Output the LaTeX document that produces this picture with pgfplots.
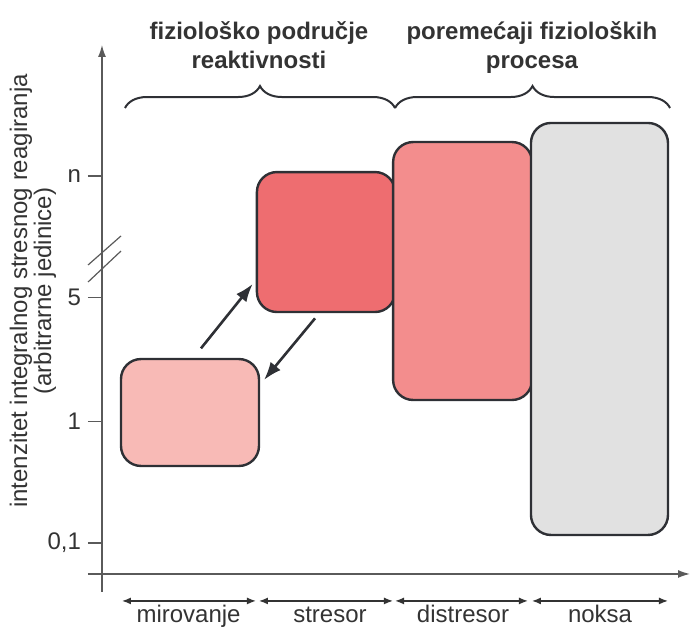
\documentclass[border=0pt]{standalone}
\usepackage{fontspec}
\setmainfont{Liberation Sans}
\usepackage{pgfplots}
\pgfplotsset{compat=1.18}
\usetikzlibrary{arrows.meta,decorations.pathreplacing}
\definecolor{cMir}{HTML}{F8BAB6}
\definecolor{cStr}{HTML}{EE6D70}
\definecolor{cDis}{HTML}{F38D8D}
\definecolor{cNok}{HTML}{E1E1E1}
\definecolor{cLine}{HTML}{2E3035}
\definecolor{cAxis}{HTML}{5A5A5A}
\definecolor{cText}{HTML}{333333}
\begin{document}
\begin{tikzpicture}[font=\fontsize{12}{14}\selectfont]
\begin{axis}[
  x=68.375pt, y=60.75pt,
  xmin=-0.139, xmax=4.161, ymin=-0.255, ymax=4.099,
  axis lines=left,
  clip=false,
  axis line style={cAxis, line width=0.7pt},
  x axis line style={-{Latex[length=6pt,width=4pt]}, shorten <=-7pt},
  y axis line style={-{Latex[length=6pt,width=4pt]}, shorten <=-9pt},
  xtick=\empty,
  ytick={0,1,2.02,3.02},
  yticklabels={{\mbox{0,1}},{\mbox{1}},{\mbox{5}},{\mbox{n}}},
  tick align=outside,
  major tick length=7pt,
  ytick style={cAxis, line width=0.7pt},
  yticklabel style={font=\fontsize{12}{14}\selectfont, text=cText},
]
% boxes (x: category span, y: intensity position)
\addplot[draw=cLine, line width=1.2pt, fill=cMir, rounded corners=10pt, mark=none]
  coordinates {(0,1.07) (0,1.514) (1.009,1.514) (1.009,0.634) (0,0.634)} -- cycle;
\addplot[draw=cLine, line width=1.2pt, fill=cStr, rounded corners=10pt, mark=none]
  coordinates {(0.994,2.48) (0.994,3.053) (2.004,3.053) (2.004,1.901) (0.994,1.901)} -- cycle;
\addplot[draw=cLine, line width=1.2pt, fill=cDis, rounded corners=10pt, mark=none]
  coordinates {(1.990,2.24) (1.990,3.300) (3.006,3.300) (3.006,1.177) (1.990,1.177)} -- cycle;
\addplot[draw=cLine, line width=1.2pt, fill=cNok, rounded corners=10pt, mark=none]
  coordinates {(2.998,1.76) (2.998,3.457) (4.0,3.457) (4.0,0.066) (2.998,0.066)} -- cycle;
% transition arrows
\addplot[cLine, line width=1.3pt, mark=none, -{Latex[length=9pt,width=6.5pt]}]
  coordinates {(0.585,1.602) (0.963,2.132)};
\addplot[cLine, line width=1.3pt, mark=none, -{Latex[length=9pt,width=6.5pt]}]
  coordinates {(1.419,1.849) (1.046,1.342)};
% category span arrows
\addplot[cText, line width=0.7pt, mark=none, {Latex[length=4.5pt,width=3.5pt]}-{Latex[length=4.5pt,width=3.5pt]}]
  coordinates {(0.007,-0.477) (0.987,-0.477)};
\addplot[cText, line width=0.7pt, mark=none, {Latex[length=4.5pt,width=3.5pt]}-{Latex[length=4.5pt,width=3.5pt]}]
  coordinates {(1.009,-0.477) (1.989,-0.477)};
\addplot[cText, line width=0.7pt, mark=none, {Latex[length=4.5pt,width=3.5pt]}-{Latex[length=4.5pt,width=3.5pt]}]
  coordinates {(2.004,-0.477) (2.976,-0.477)};
\addplot[cText, line width=0.7pt, mark=none, {Latex[length=4.5pt,width=3.5pt]}-{Latex[length=4.5pt,width=3.5pt]}]
  coordinates {(3.005,-0.477) (4.0,-0.477)};
% category labels
\node[anchor=base, text=cText] at (axis cs:0.494,-0.658) {mirovanje};
\node[anchor=base, text=cText] at (axis cs:1.528,-0.658) {stresor};
\node[anchor=base, text=cText] at (axis cs:2.501,-0.658) {distresor};
\node[anchor=base, text=cText] at (axis cs:3.503,-0.658) {noksa};
% braces and group titles
\draw[decorate, decoration={brace, amplitude=11pt}, cLine, line width=1pt]
  (axis cs:0.029,3.580) -- (axis cs:2.004,3.580);
\draw[decorate, decoration={brace, amplitude=11pt}, cLine, line width=1pt]
  (axis cs:2.004,3.580) -- (axis cs:4.015,3.580);
\node[anchor=base, text=cText, font=\bfseries\fontsize{12}{14}\selectfont] at (axis cs:1.009,4.140) {fiziološko područje};
\node[anchor=base, text=cText, font=\bfseries\fontsize{12}{14}\selectfont] at (axis cs:1.009,3.909) {reaktivnosti};
\node[anchor=base, text=cText, font=\bfseries\fontsize{12}{14}\selectfont] at (axis cs:3.005,4.140) {poremećaji fizioloških};
\node[anchor=base, text=cText, font=\bfseries\fontsize{12}{14}\selectfont] at (axis cs:3.005,3.909) {procesa};
% y label
\node[rotate=90, align=center, text=cText, font=\fontsize{12}{12}\selectfont] at (axis cs:-0.644,2.074)
  {intenzitet integralnog stresnog reagiranja\\(arbitrarne jedinice)};
% axis break
\draw[cAxis, line width=0.6pt] (axis cs:-0.241,2.288) -- (axis cs:0,2.527);
\draw[cAxis, line width=0.6pt] (axis cs:-0.241,2.148) -- (axis cs:0,2.403);
\coordinate (BL) at (axis cs:-0.8848,-0.7243);
\coordinate (TR) at (axis cs:4.1682,4.4691);
\end{axis}
\pgfresetboundingbox
\path[use as bounding box] (BL) rectangle (TR);
\end{tikzpicture}
\end{document}
